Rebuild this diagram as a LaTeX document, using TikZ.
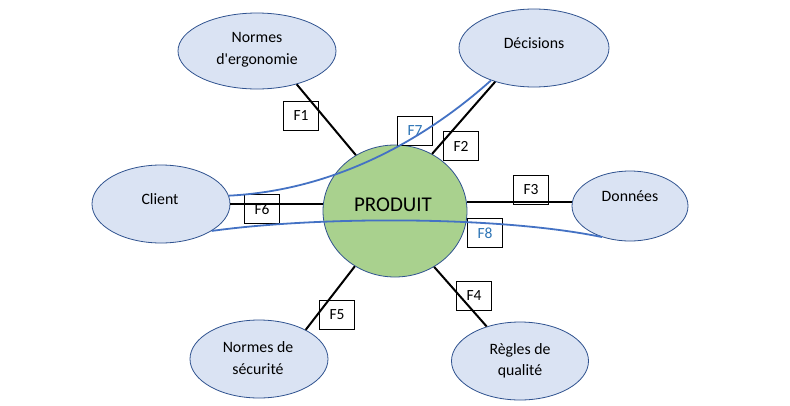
\documentclass[tikz,border=0pt]{standalone}
\usepackage{fontspec}
\setmainfont{Carlito}[Ligatures=TeXOff]
\usetikzlibrary{shapes.geometric}
\definecolor{ellfill}{HTML}{DAE3F3}
\definecolor{ellline}{HTML}{2F528F}
\definecolor{prodfill}{HTML}{A9D18E}
\definecolor{curveblue}{HTML}{4472C4}
\definecolor{textblue}{HTML}{2E75B6}
\begin{document}
\begin{tikzpicture}[x=1pt,y=-1pt,
  ell/.style={ellipse, draw=ellline, fill=ellfill, line width=0.8pt, inner sep=0pt},
  txt/.style={align=center, font=\fontsize{15.8}{21.5}\selectfont, inner sep=0pt},
  fbox/.style={draw=black, fill=white, line width=0.9pt, minimum width=35pt, minimum height=29pt, inner sep=0pt, font=\fontsize{15.5}{17}\selectfont},
  conn/.style={line width=2pt, black},
  flow/.style={line width=1.8pt, curveblue}]
\useasboundingbox[fill=white] (0,0) rectangle (790,405);
% ellipses
\node[ell, minimum width=158pt, minimum height=76pt] (ergo) at (257,51) {};
\node[ell, minimum width=150pt, minimum height=78pt] (dec) at (534,48) {};
\node[ell, minimum width=138pt, minimum height=78pt] (cli) at (161,204) {};
\node[ell, minimum width=116pt, minimum height=70pt] (don) at (630,206) {};
\node[ell, minimum width=138pt, minimum height=78pt] (secu) at (259,359) {};
\node[ell, minimum width=137pt, minimum height=78pt] (reg) at (520,361) {};
\node[ellipse, draw=ellline, fill=prodfill, line width=0.8pt, inner sep=0pt, minimum width=144pt, minimum height=132pt] (prod) at (395,211) {};
% texts
\node[txt] (ergot) at (257,50) {Normes\\d'ergonomie};
\node[txt] (dect) at (534,43) {Décisions};
\node[txt] (clit) at (160,199) {Client};
\node[txt] (dont) at (630,196) {Données};
\node[txt] (secut) at (258,358) {Normes de\\sécurité};
\node[txt] (regt) at (520,361) {Règles de\\qualité};
\node[inner sep=0pt, font=\fontsize{21}{24}\selectfont] (prodt) at (393,205) {PRODUIT};
% label boxes
\node[fbox] (f1) at (301,116) {F1};
\node[fbox] (f2) at (461,146) {F2};
\node[fbox] (f3) at (531,190) {F3};
\node[fbox] (f4) at (474,296) {F4};
\node[fbox] (f5) at (337,315) {F5};
\node[fbox] (f6) at (262,209) {F6};
\node[fbox, text=textblue] (f7) at (415,131) {F7};
\node[fbox, text=textblue] (f8) at (485,233) {F8};
% connectors
\draw[conn] (ergo.-40) -- (prod.125);
\draw[conn] (dec.-139) -- (prod.57);
\draw[conn] (prod.7) -- (prod.7 -| don.west);
\draw[conn] (cli.east) -- (cli.east -| prod.west);
\draw[conn] (prod.-55) -- (reg.134);
\draw[conn] (prod.-126) -- (secu.32);
% flows
\draw[flow] (cli.7) .. controls (340,190) and (430,135) .. (dec.-143);
\draw[flow] (cli.-28) .. controls (320,216) and (500,216) .. (don.-132);
\end{tikzpicture}
\end{document}
